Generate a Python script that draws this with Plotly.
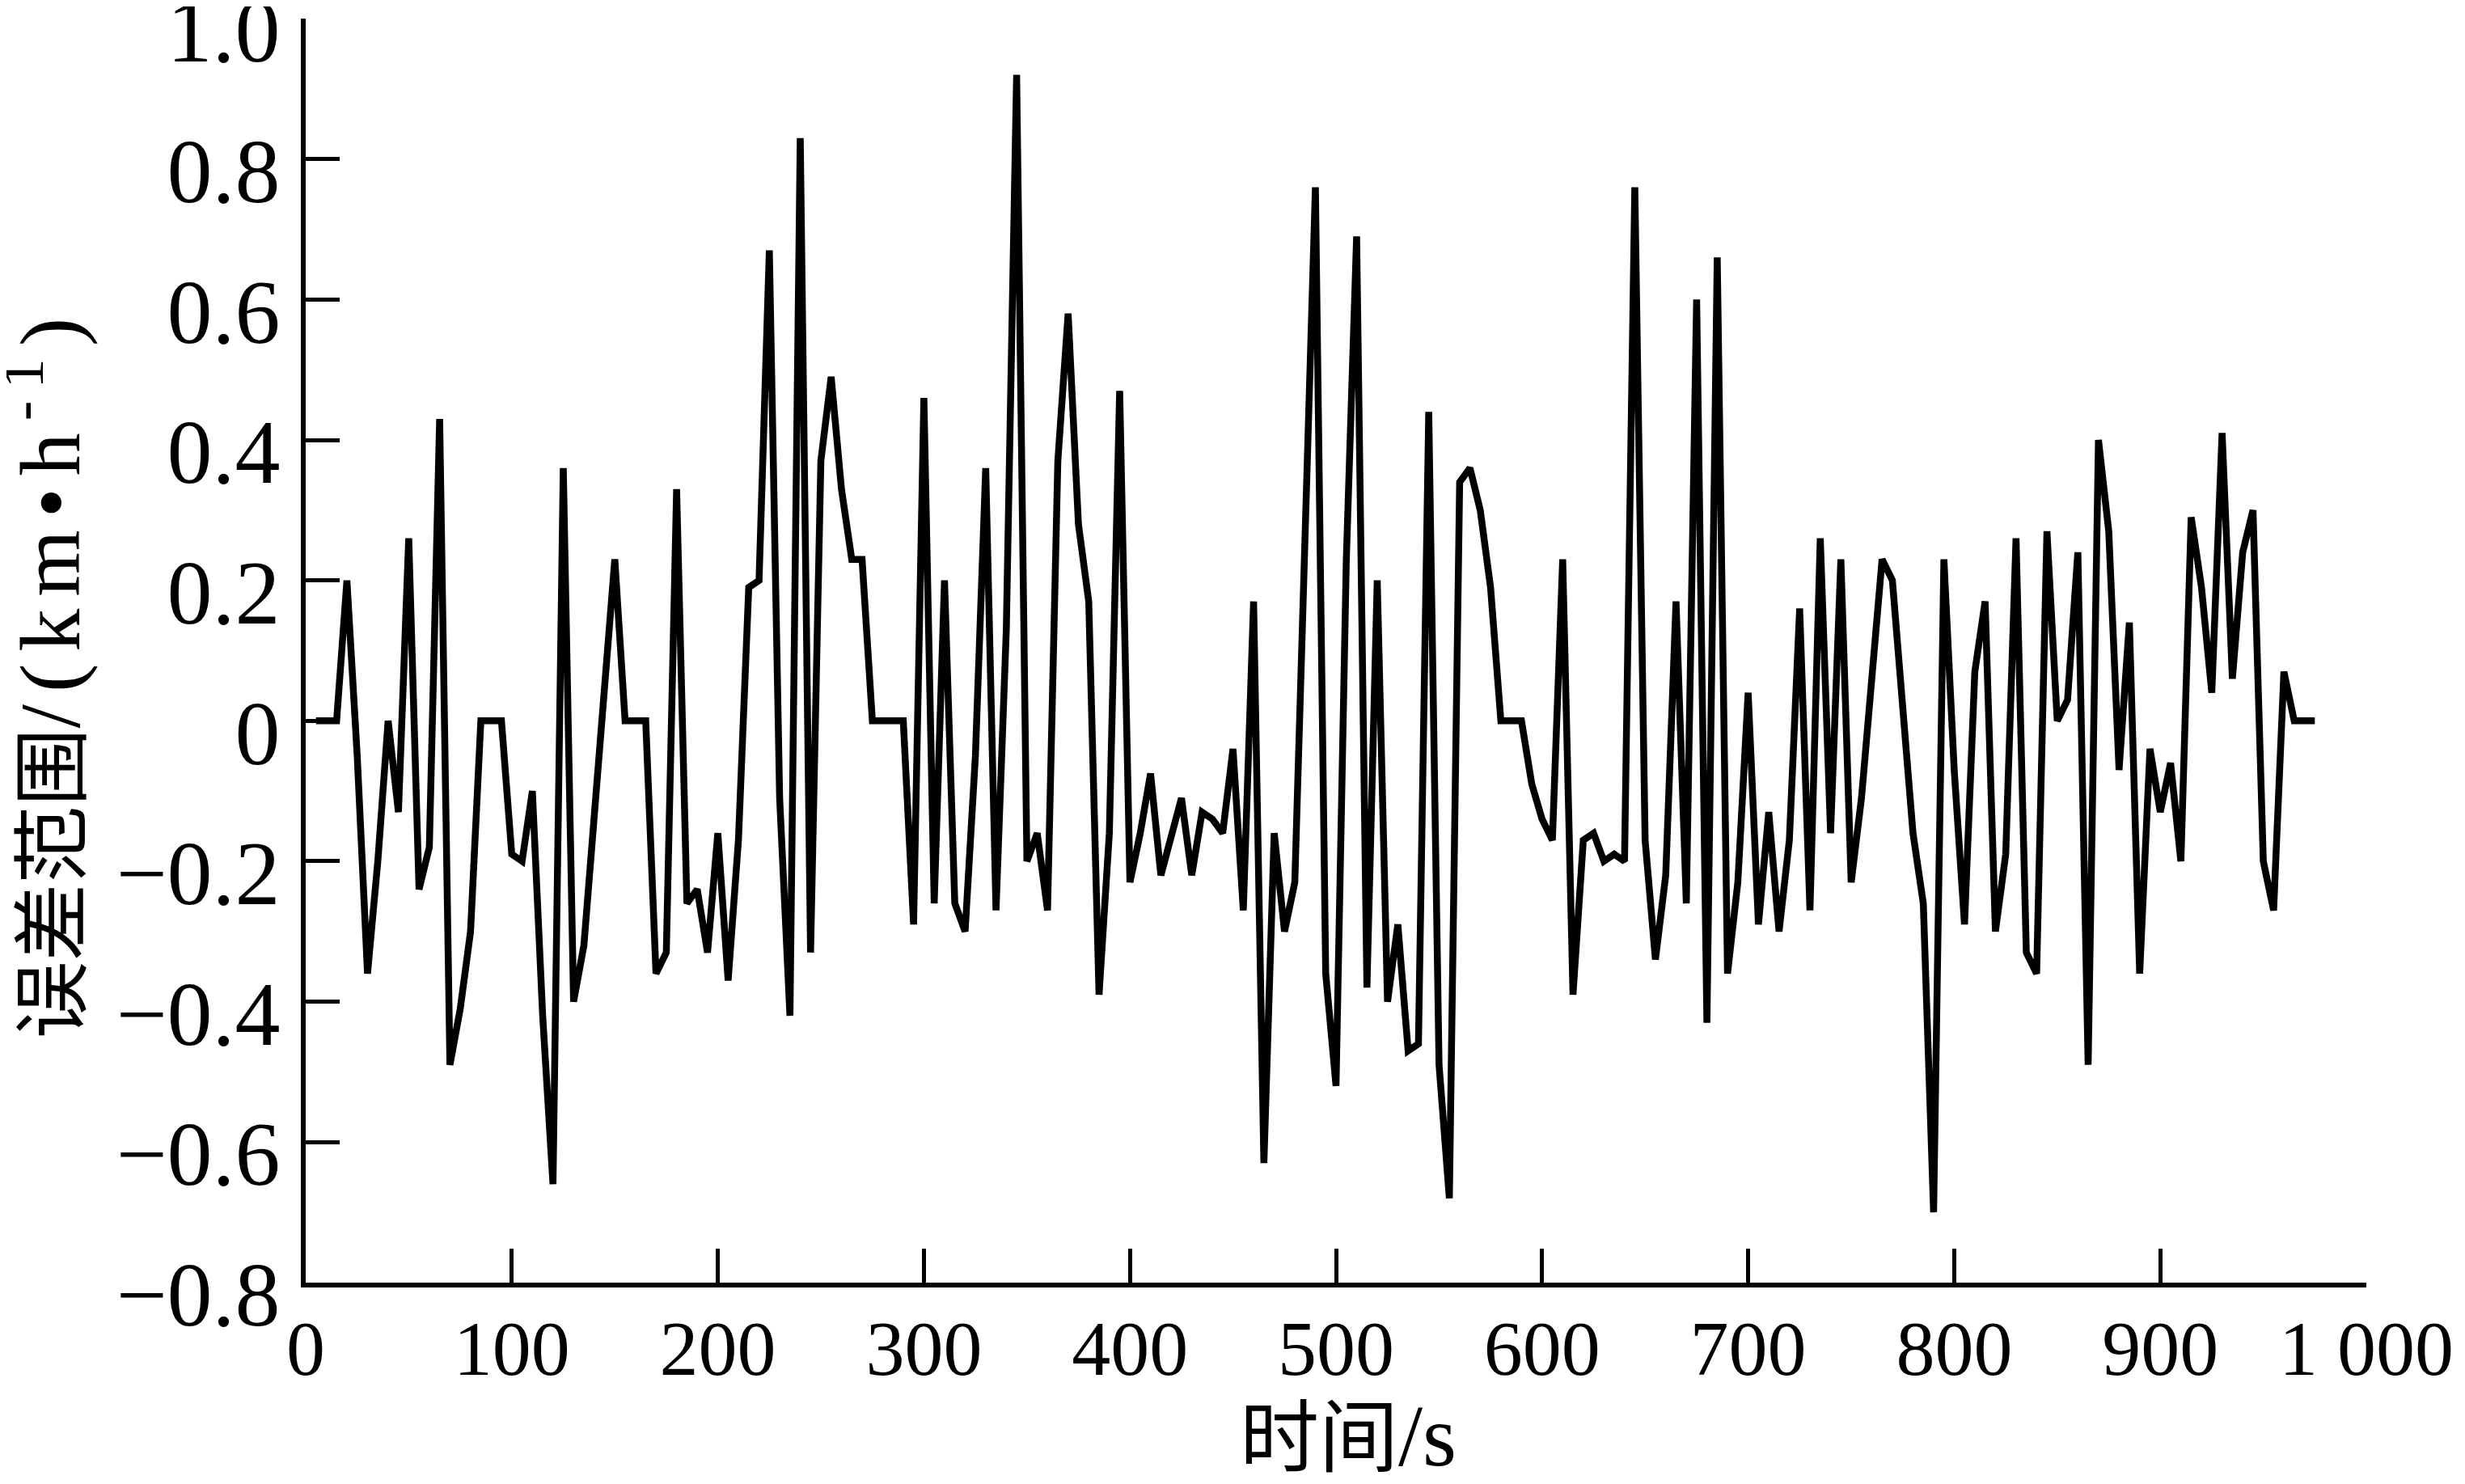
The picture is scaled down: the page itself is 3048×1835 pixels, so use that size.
import plotly.graph_objects as go

# time (s) of each vertex of the error curve
time_s = [5, 15, 20, 25, 30, 35, 40, 45, 50, 55, 60, 65, 70, 75, 80, 85, 95, 100, 105, 110,
          115, 120, 125, 130, 135, 150, 155, 165, 170, 175, 180, 185, 190, 195, 200, 205, 210,
          215, 220, 225, 230, 235, 240, 245, 250, 255, 260, 265, 270, 275, 290, 295, 300, 305,
          310, 315, 320, 325, 330, 335, 340, 345, 350, 355, 360, 365, 370, 375, 380, 385, 390,
          395, 400, 405, 410, 415, 425, 430, 435, 440, 445, 450, 455, 460, 465, 470, 475, 480,
          490, 495, 500, 505, 510, 515, 520, 525, 530, 535, 540, 545, 550, 555, 560, 565, 570,
          575, 580, 590, 595, 600, 605, 610, 615, 620, 625, 630, 635, 640, 645, 650, 655, 660,
          665, 670, 675, 680, 685, 690, 695, 700, 705, 710, 715, 720, 725, 730, 735, 740, 745,
          750, 755, 760, 765, 770, 775, 780, 785, 790, 795, 800, 805, 810, 815, 820, 825, 830,
          835, 840, 845, 850, 855, 860, 865, 870, 875, 880, 885, 890, 895, 900, 905, 910, 915,
          920, 925, 930, 935, 940, 945, 950, 955, 960, 965, 975]

# error range (km/h)
error_kmh = [0, 0, 0.2, -0.05, -0.36, -0.2, 0, -0.13, 0.26, -0.24, -0.18, 0.43, -0.49, -0.41, -0.3,
             0, 0, -0.19, -0.2, -0.1, -0.42, -0.66, 0.36, -0.4, -0.32, 0.23, 0, 0, -0.36, -0.33,
             0.33, -0.26, -0.24, -0.33, -0.16, -0.37, -0.17, 0.19, 0.2, 0.67, -0.11, -0.42, 0.83,
             -0.33, 0.37, 0.49, 0.33, 0.23, 0.23, 0, 0, -0.29, 0.46, -0.26, 0.2, -0.26, -0.3,
             -0.05, 0.36, -0.27, 0.13, 0.92, -0.2, -0.16, -0.27, 0.37, 0.58, 0.28, 0.17, -0.39,
             -0.16, 0.47, -0.23, -0.16, -0.075, -0.22, -0.11, -0.22, -0.13, -0.14, -0.16, -0.04,
             -0.27, 0.17, -0.63, -0.16, -0.3, -0.23, 0.76, -0.36, -0.52, 0.23, 0.69, -0.38, 0.2,
             -0.4, -0.29, -0.47, -0.46, 0.44, -0.49, -0.68, 0.34, 0.36, 0.3, 0.19, 0, 0, -0.09,
             -0.14, -0.17, 0.23, -0.39, -0.17, -0.16, -0.2, -0.19, -0.2, 0.76, -0.17, -0.34,
             -0.22, 0.17, -0.26, 0.6, -0.43, 0.66, -0.36, -0.23, 0.04, -0.29, -0.13, -0.3, -0.17,
             0.16, -0.27, 0.26, -0.16, 0.23, -0.23, -0.11, 0.05, 0.23, 0.2, 0.03, -0.16, -0.26,
             -0.7, 0.23, -0.07, -0.29, 0.07, 0.17, -0.3, -0.19, 0.26, -0.33, -0.36, 0.27, 0,
             0.03, 0.24, -0.49, 0.4, 0.27, -0.07, 0.14, -0.36, -0.04, -0.13, -0.06, -0.2, 0.29,
             0.19, 0.04, 0.41, 0.06, 0.24, 0.3, -0.2, -0.27, 0.07, 0, 0]

x_tickvals = [0, 100, 200, 300, 400, 500, 600, 700, 800, 900, 1000]
x_ticktext = ["0", "100", "200", "300", "400", "500", "600", "700", "800", "900", "1 000"]
y_tickvals = [-0.8, -0.6, -0.4, -0.2, 0, 0.2, 0.4, 0.6, 0.8, 1.0]
y_ticktext = ["\u22120.8", "\u22120.6", "\u22120.4", "\u22120.2", "0", "0.2", "0.4", "0.6", "0.8", "1.0"]

x_title = "时间<span style=\"font-size:108px\">/s</span>"
y_title = ("误差范围<span style=\"font-size:106px;letter-spacing:15px\">/(km•h<sup>-1</sup>)</span>")

SERIF = "Liberation Serif, Times New Roman, Noto Sans CJK SC, serif"

fig = go.Figure()
fig.add_trace(go.Scatter(
    x=time_s, y=error_kmh, mode="lines",
    line=dict(color="black", width=8.5),
    showlegend=False, hoverinfo="skip",
))

axis_common = dict(
    showline=True, linecolor="black", linewidth=6, mirror=False,
    showgrid=False, zeroline=False,
    ticks="inside", ticklen=42, tickwidth=5, tickcolor="black",
    ticklabeloverflow="allow",
)

fig.update_xaxes(range=[0, 1000], tickmode="array", tickvals=x_tickvals, ticktext=x_ticktext,
                 ticklabelstandoff=-7, tickfont=dict(family=SERIF, size=96, color="black"),
                 **axis_common)
fig.update_yaxes(range=[-0.8002, 1.0002], tickmode="array", tickvals=y_tickvals, ticktext=y_ticktext,
                 ticklabelstandoff=3, ticklabelshift=14,
                 tickfont=dict(family=SERIF, size=112, color="black"),
                 **axis_common)

fig.add_annotation(text=x_title, xref="paper", yref="paper", x=0.506, y=-0.121,
                   xanchor="center", yanchor="middle", showarrow=False,
                   font=dict(family=SERIF, size=98, color="black"))
fig.add_annotation(text=y_title, xref="paper", yref="paper", x=-0.127, y=0.483,
                   xanchor="center", yanchor="middle", showarrow=False, textangle=-90,
                   font=dict(family=SERIF, size=96, color="black"))

# page body adds an 8 px offset; margins compensate so the plot area lands where the reference has it
fig.update_layout(
    width=3040, height=1827,
    margin=dict(l=370, r=122, t=15, b=249, autoexpand=False),
    paper_bgcolor="white", plot_bgcolor="white",
)

fig.write_html("out.html")
